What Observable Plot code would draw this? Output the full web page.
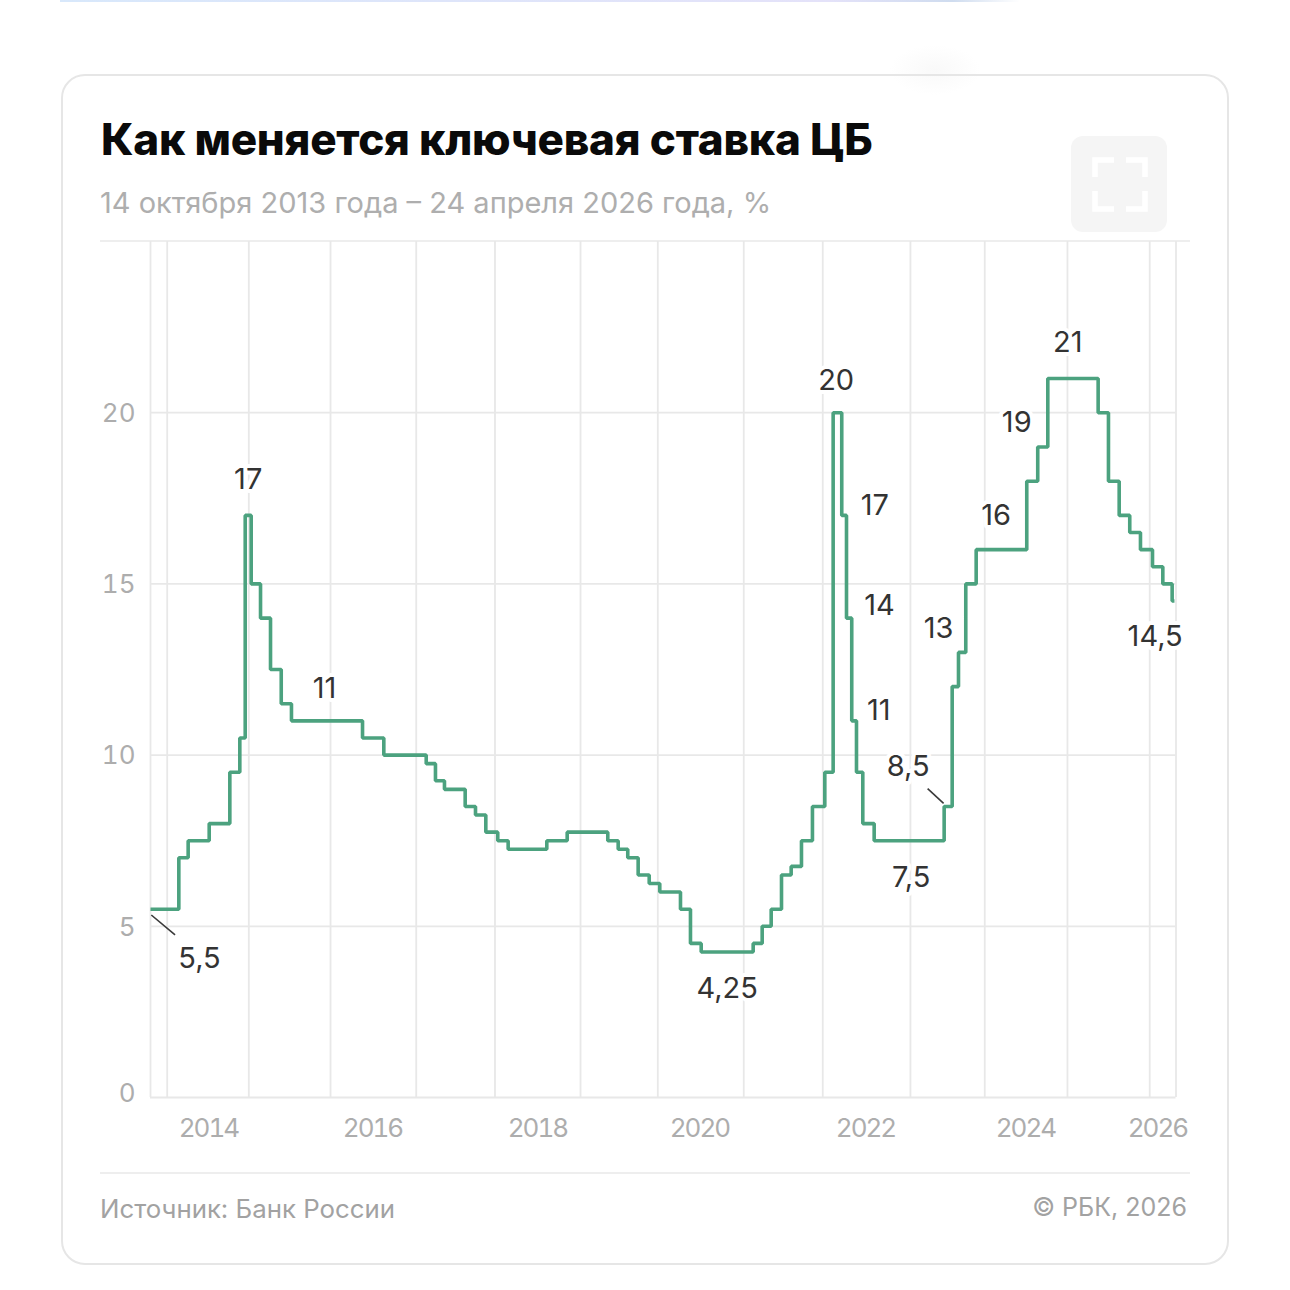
<!DOCTYPE html>
<html lang="ru">
<head>
<meta charset="utf-8">
<script src="https://cdn.jsdelivr.net/npm/d3@7"></script>
<script src="https://cdn.jsdelivr.net/npm/@observablehq/plot@0.6"></script>
<style>
  html, body { margin: 0; padding: 0; background: #fff; width: 1290px; height: 1290px; overflow: hidden; font-family: Inter, sans-serif; }
  #top { position: absolute; left: 60px; top: 0; width: 960px; height: 2px; background: linear-gradient(90deg, #d8e8fb, #e4e2f9 80%, #cfdcef 93%, #fff); }
  #smudge { position: absolute; left: 890px; top: 45px; width: 90px; height: 50px; background: radial-gradient(closest-side, #f9f9f9, #ffffff00); }
  #card { position: absolute; left: 61px; top: 74px; width: 1164px; height: 1187px; border: 2px solid #e6e6e6; border-radius: 24px; box-sizing: content-box; }
  #title { position: absolute; left: 101px; top: 111px; font: 800 44px/56px Inter, sans-serif; color: #0a0a0a; letter-spacing: -0.24px; white-space: nowrap; }
  #subtitle { position: absolute; left: 100px; top: 184px; font: 400 29px/38px Inter, sans-serif; color: #aeaeae; white-space: nowrap; }
  #icon { position: absolute; left: 1071px; top: 136px; width: 96px; height: 96px; background: #f5f5f5; border-radius: 12px; }
  .rule { position: absolute; left: 100px; width: 1090px; height: 2px; background: #eeeeee; }
  #chart { position: absolute; left: 0; top: 231px; }
  #source { position: absolute; left: 100px; top: 1192px; font: 400 25.8px/34px Inter, sans-serif; color: #a2a2a2; white-space: nowrap; }
  #copy { position: absolute; right: 103px; top: 1190px; font: 400 25px/34px Inter, sans-serif; color: #a2a2a2; white-space: nowrap; }
</style>
</head>
<body>
<div id="top"></div>
<div id="smudge"></div>
<div id="card"></div>
<div id="title">Как меняется ключевая ставка ЦБ</div>
<div id="subtitle">14 октября 2013 года – 24 апреля 2026 года, %</div>
<div id="icon"><svg width="96" height="96" fill="none" stroke="#fff" stroke-width="5.5"><path d="M24 41V24H43M55 24H74V41M74 55V73H55M43 73H24V55"/></svg></div>
<div class="rule" style="top:240px"></div>
<div id="chart"></div>
<div class="rule" style="top:1172px"></div>
<div id="source">Источник: Банк России</div>
<div id="copy">© РБК, 2026</div>
<script>
// Decimal years at which each rate takes effect
const stepYears = [2013.79, 2014.136, 2014.25, 2014.507, 2014.759, 2014.881, 2014.947, 2015.02, 2015.134, 2015.256, 2015.387, 2015.512, 2016.38, 2016.64, 2017.158, 2017.271, 2017.381, 2017.634, 2017.76, 2017.886, 2018.032, 2018.159, 2018.631, 2018.88, 2019.376, 2019.503, 2019.62, 2019.747, 2019.882, 2020.011, 2020.264, 2020.386, 2020.517, 2021.152, 2021.262, 2021.372, 2021.498, 2021.616, 2021.742, 2021.876, 2022.027, 2022.129, 2022.234, 2022.292, 2022.356, 2022.414, 2022.491, 2022.63, 2023.485, 2023.583, 2023.66, 2023.749, 2023.876, 2024.494, 2024.628, 2024.751, 2025.366, 2025.492, 2025.623, 2025.752, 2025.883, 2026.03, 2026.156, 2026.27, 2026.298];
const rates = [5.5, 7, 7.5, 8, 9.5, 10.5, 17, 15, 14, 12.5, 11.5, 11, 10.5, 10, 9.75, 9.25, 9, 8.5, 8.25, 7.75, 7.5, 7.25, 7.5, 7.75, 7.5, 7.25, 7, 6.5, 6.25, 6, 5.5, 4.5, 4.25, 4.5, 5, 5.5, 6.5, 6.75, 7.5, 8.5, 9.5, 20, 17, 14, 11, 9.5, 8, 7.5, 8.5, 12, 13, 15, 16, 18, 19, 21, 20, 18, 17, 16.5, 16, 15.5, 15, 14.5, 14.5];

// Vertical grid lines (the start of the series, the year starts, its end)
const gridYears = [2013.79, 2013.994, 2014.991, 2015.989, 2017.036, 2017.998, 2019.043, 2019.987, 2021.037, 2022.002, 2023.073, 2023.981, 2024.991, 2025.996, 2026.317];
const gridRates = [0, 5, 10, 15, 20];

// Axis labels: decimal positions whose whole part is the label
const yearLabelAt = [2014.498, 2016.502, 2018.517, 2020.496, 2022.524, 2024.478, 2026.09];

// Annotated points: label text, index of the step it belongs to
const noteTexts = ["5,5", "17", "11", "4,25", "20", "17", "14", "11", "8,5", "7,5", "13", "19", "16", "21", "14,5"];
const noteSteps = [0, 6, 11, 32, 41, 42, 43, 44, 48, 47, 50, 54, 52, 55, 63];

// Label offsets from their step, in pixels
const noteDx = [49, 3, 33, 26, 3, 33, 33, 27, -36, 37, -20, -21, 20, 20, -17];
const noteDy = [50, -36, -32, 37, -32, -10, -12, -10, -40, 37, -24, -24, -34, -36, 36];

// Leader strokes
const leaders = [
  {x1: 2013.80, y1: 5.33, x2: 2014.09, y2: 4.75},
  {x1: 2023.283, y1: 9.02, x2: 2023.478, y2: 8.59}
];

const series = stepYears.map((year, i) => ({year, rate: rates[i]}));
const notes = noteTexts.map((text, i) => ({text, year: stepYears[noteSteps[i]], rate: rates[noteSteps[i]], dx: noteDx[i], dy: noteDy[i]}));

const axisStyle = {fontSize: 26, fill: "#adadad", tickSize: 0, label: null};

const chart = Plot.plot({
  width: 1290,
  height: 919,
  marginLeft: 150,
  marginRight: 114.5,
  marginTop: 10,
  marginBottom: 53,
  style: {background: "transparent", fontFamily: "Inter, sans-serif", overflow: "visible"},
  x: {domain: [2013.79, 2026.317]},
  y: {domain: [0, 25]},
  marks: [
    Plot.ruleX(gridYears, {stroke: "#e8e8e8", strokeWidth: 1.8, strokeOpacity: 1}),
    Plot.ruleY(gridRates, {stroke: "#e8e8e8", strokeWidth: 1.8, strokeOpacity: 1}),
    Plot.axisX({...axisStyle, ticks: yearLabelAt, tickFormat: d => String(Math.floor(d)), tickPadding: 21, anchor: "bottom"}),
    Plot.axisY({...axisStyle, ticks: gridRates.slice(1), tickFormat: d => String(d), tickPadding: 15, anchor: "left", dy: 1}),
    Plot.axisY({...axisStyle, ticks: [0], tickFormat: d => String(d), tickPadding: 15, anchor: "left", dy: -4}),
    Plot.line(series, {x: "year", y: "rate", curve: "step-after", stroke: "#4ca27f", strokeWidth: 3.6, strokeLinejoin: "miter", strokeLinecap: "butt"}),
    Plot.link(leaders, {x1: "x1", y1: "y1", x2: "x2", y2: "y2", stroke: "#3a3a3a", strokeWidth: 1.6}),
    ...notes.map(n => Plot.text([n], {x: "year", y: "rate", text: "text", dx: n.dx, dy: n.dy, fontSize: 29, fill: "#333333", stroke: "#fff", strokeWidth: 8, paintOrder: "stroke", textAnchor: "middle", lineAnchor: "middle"}))
  ]
});
// Year labels are set tighter in the reference
chart.querySelectorAll("text").forEach(t => {
  if (/^20\d\d$/.test(t.textContent.trim())) t.style.letterSpacing = "-2px";
});
document.getElementById("chart").appendChild(chart);
</script>
</body>
</html>
